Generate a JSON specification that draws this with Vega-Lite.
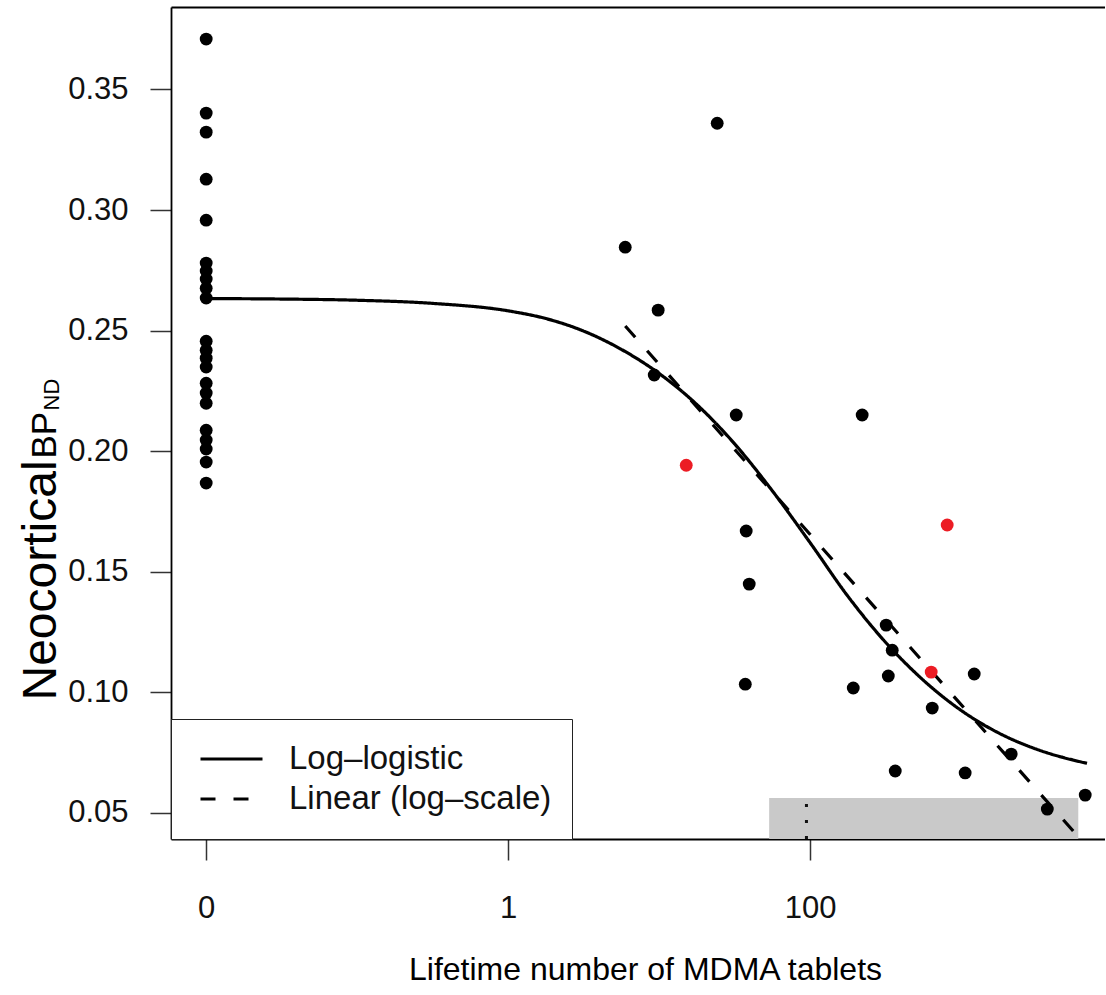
{
  "$schema": "https://vega.github.io/schema/vega-lite/v6.json",
  "width": 934,
  "height": 832,
  "autosize": {"type": "none"},
  "padding": {"left": 171, "top": 7, "right": 0, "bottom": 156},
  "background": "white",
  "config": {
    "view": {"stroke": null},
    "font": "Liberation Sans",
    "axis": {"grid": false, "titleFontWeight": "normal", "titleColor": "#000", "labelColor": "#111"}
  },
  "datasets": {
    "band": [
      {"log_tablets_from": 1.728, "log_tablets_to": 3.775, "bp_low": 0.0392, "bp_high": 0.0562}
    ],
    "marker": [
      {"log_tablets": 1.975, "bp_low": 0.0392, "bp_high": 0.0562}
    ],
    "curves": [
      {"model": "Log–logistic", "log_tablets": -2.0, "bp": 0.2633},
      {"model": "Log–logistic", "log_tablets": -1.5, "bp": 0.2631},
      {"model": "Log–logistic", "log_tablets": -1.0, "bp": 0.2626},
      {"model": "Log–logistic", "log_tablets": -0.5, "bp": 0.2613},
      {"model": "Log–logistic", "log_tablets": 0.0, "bp": 0.2582},
      {"model": "Log–logistic", "log_tablets": 0.25, "bp": 0.2550},
      {"model": "Log–logistic", "log_tablets": 0.5, "bp": 0.2498},
      {"model": "Log–logistic", "log_tablets": 0.75, "bp": 0.2422},
      {"model": "Log–logistic", "log_tablets": 1.0, "bp": 0.2322},
      {"model": "Log–logistic", "log_tablets": 1.25, "bp": 0.2193},
      {"model": "Log–logistic", "log_tablets": 1.5, "bp": 0.2030},
      {"model": "Log–logistic", "log_tablets": 1.75, "bp": 0.1835},
      {"model": "Log–logistic", "log_tablets": 2.0, "bp": 0.1620},
      {"model": "Log–logistic", "log_tablets": 2.25, "bp": 0.1398},
      {"model": "Log–logistic", "log_tablets": 2.5, "bp": 0.1207},
      {"model": "Log–logistic", "log_tablets": 2.75, "bp": 0.1050},
      {"model": "Log–logistic", "log_tablets": 3.0, "bp": 0.0925},
      {"model": "Log–logistic", "log_tablets": 3.25, "bp": 0.0831},
      {"model": "Log–logistic", "log_tablets": 3.5, "bp": 0.0764},
      {"model": "Log–logistic", "log_tablets": 3.75, "bp": 0.0718},
      {"model": "Log–logistic", "log_tablets": 3.833, "bp": 0.0706},
      {"model": "Linear (log–scale)", "log_tablets": 0.775, "bp": 0.2519},
      {"model": "Linear (log–scale)", "log_tablets": 3.821, "bp": 0.0369}
    ],
    "points": [
      {"log_tablets": -2, "bp": 0.3709, "group": "standard"},
      {"log_tablets": -2, "bp": 0.3402, "group": "standard"},
      {"log_tablets": -2, "bp": 0.3323, "group": "standard"},
      {"log_tablets": -2, "bp": 0.3128, "group": "standard"},
      {"log_tablets": -2, "bp": 0.2958, "group": "standard"},
      {"log_tablets": -2, "bp": 0.2780, "group": "standard"},
      {"log_tablets": -2, "bp": 0.2747, "group": "standard"},
      {"log_tablets": -2, "bp": 0.2714, "group": "standard"},
      {"log_tablets": -2, "bp": 0.2676, "group": "standard"},
      {"log_tablets": -2, "bp": 0.2635, "group": "standard"},
      {"log_tablets": -2, "bp": 0.2456, "group": "standard"},
      {"log_tablets": -2, "bp": 0.2419, "group": "standard"},
      {"log_tablets": -2, "bp": 0.2386, "group": "standard"},
      {"log_tablets": -2, "bp": 0.2349, "group": "standard"},
      {"log_tablets": -2, "bp": 0.2282, "group": "standard"},
      {"log_tablets": -2, "bp": 0.2241, "group": "standard"},
      {"log_tablets": -2, "bp": 0.2199, "group": "standard"},
      {"log_tablets": -2, "bp": 0.2087, "group": "standard"},
      {"log_tablets": -2, "bp": 0.2046, "group": "standard"},
      {"log_tablets": -2, "bp": 0.2009, "group": "standard"},
      {"log_tablets": -2, "bp": 0.1955, "group": "standard"},
      {"log_tablets": -2, "bp": 0.1868, "group": "standard"},
      {"log_tablets": 0.775, "bp": 0.2846, "group": "standard"},
      {"log_tablets": 1.384, "bp": 0.3360, "group": "standard"},
      {"log_tablets": 0.993, "bp": 0.2585, "group": "standard"},
      {"log_tablets": 0.967, "bp": 0.2316, "group": "standard"},
      {"log_tablets": 1.179, "bp": 0.1942, "group": "highlighted"},
      {"log_tablets": 1.510, "bp": 0.2150, "group": "standard"},
      {"log_tablets": 2.344, "bp": 0.2150, "group": "standard"},
      {"log_tablets": 1.576, "bp": 0.1669, "group": "standard"},
      {"log_tablets": 1.596, "bp": 0.1449, "group": "standard"},
      {"log_tablets": 1.570, "bp": 0.1034, "group": "standard"},
      {"log_tablets": 2.907, "bp": 0.1694, "group": "highlighted"},
      {"log_tablets": 2.503, "bp": 0.1279, "group": "standard"},
      {"log_tablets": 2.543, "bp": 0.1175, "group": "standard"},
      {"log_tablets": 2.517, "bp": 0.1068, "group": "standard"},
      {"log_tablets": 2.285, "bp": 0.1018, "group": "standard"},
      {"log_tablets": 2.801, "bp": 0.1084, "group": "highlighted"},
      {"log_tablets": 3.086, "bp": 0.1076, "group": "standard"},
      {"log_tablets": 2.808, "bp": 0.0935, "group": "standard"},
      {"log_tablets": 2.563, "bp": 0.0674, "group": "standard"},
      {"log_tablets": 3.026, "bp": 0.0666, "group": "standard"},
      {"log_tablets": 3.331, "bp": 0.0744, "group": "standard"},
      {"log_tablets": 3.570, "bp": 0.0516, "group": "standard"},
      {"log_tablets": 3.821, "bp": 0.0574, "group": "standard"}
    ]
  },
  "layer": [
    {
      "data": {"name": "band"},
      "mark": {"type": "rect", "color": "#c9c9c9"},
      "encoding": {
        "x": {
          "field": "log_tablets_from", "type": "quantitative",
          "scale": {"domain": [-2.233, 3.952], "nice": false, "zero": false},
          "axis": {
            "orient": "bottom", "values": [-2, 0, 2],
            "labelExpr": "datum.value == -2 ? '0' : datum.value == 0 ? '1' : '100'",
            "tickSize": 21, "tickWidth": 1.5, "tickColor": "#333",
            "domain": true, "domainColor": "#000", "domainWidth": 1.8,
            "labelFontSize": 31, "labelPadding": 33, "labelAngle": 0,
            "title": "Lifetime number of MDMA tablets", "titleFontSize": 32,
            "titleX": 474, "titleY": 140, "titleAlign": "center", "titleBaseline": "alphabetic"
          }
        },
        "x2": {"field": "log_tablets_to"},
        "y": {
          "field": "bp_low", "type": "quantitative",
          "scale": {"domain": [0.0392, 0.3842], "nice": false, "zero": false},
          "axis": {
            "orient": "left", "values": [0.05, 0.10, 0.15, 0.20, 0.25, 0.30, 0.35], "format": ".2f",
            "tickSize": 21, "tickWidth": 1.5, "tickColor": "#333",
            "domain": true, "domainColor": "#000", "domainWidth": 1.8,
            "labelFontSize": 31, "labelPadding": 22,
            "title": "Neocortical", "titleFontSize": 48, "titleAngle": 270,
            "titleX": -116, "titleY": 693, "titleAlign": "left", "titleBaseline": "alphabetic"
          }
        },
        "y2": {"field": "bp_high"}
      }
    },
    {
      "data": {"name": "marker"},
      "mark": {"type": "rule", "color": "#111", "strokeWidth": 3, "strokeDash": [3, 13]},
      "encoding": {
        "x": {
          "field": "log_tablets", "type": "quantitative",
          "scale": {"domain": [-2.233, 3.952], "nice": false, "zero": false},
          "axis": {"orient": "top", "labels": false, "ticks": false, "title": null, "domain": true, "domainColor": "#000", "domainWidth": 1.8}
        },
        "y": {
          "field": "bp_low", "type": "quantitative",
          "scale": {"domain": [0.0392, 0.3842], "nice": false, "zero": false},
          "axis": {
            "orient": "left", "labels": false, "ticks": false, "domain": false,
            "title": "BP", "titleFontSize": 35, "titleAngle": 270,
            "titleX": -116, "titleY": 451, "titleAlign": "left", "titleBaseline": "alphabetic"
          }
        },
        "y2": {"field": "bp_high"}
      }
    },
    {
      "data": {"name": "curves"},
      "mark": {"type": "line", "color": "#000", "strokeWidth": 3.2, "clip": true, "interpolate": "monotone"},
      "encoding": {
        "x": {"field": "log_tablets", "type": "quantitative", "scale": {"domain": [-2.233, 3.952], "nice": false, "zero": false}, "axis": null},
        "y": {"field": "bp", "type": "quantitative", "scale": {"domain": [0.0392, 0.3842], "nice": false, "zero": false}, "axis": null},
        "strokeDash": {
          "field": "model", "type": "nominal",
          "scale": {"domain": ["Log–logistic", "Linear (log–scale)"], "range": [[1, 0], [15, 18]]},
          "legend": {
            "title": null, "orient": "bottom-left", "offset": 0, "padding": 20, "rowPadding": 0,
            "clipHeight": 40,
            "symbolType": "stroke", "symbolSize": 3844, "symbolStrokeWidth": 3, "symbolStrokeColor": "#000",
            "symbolOffset": 8,
            "labelFontSize": 33, "labelColor": "#111", "labelOffset": 25, "labelLimit": 500,
            "strokeColor": "#222", "fillColor": "white", "cornerRadius": 0
          }
        }
      }
    },
    {
      "data": {"name": "points"},
      "mark": {"type": "point", "filled": true, "size": 165, "opacity": 1},
      "encoding": {
        "x": {"field": "log_tablets", "type": "quantitative", "scale": {"domain": [-2.233, 3.952], "nice": false, "zero": false}, "axis": null},
        "y": {
          "field": "bp", "type": "quantitative",
          "scale": {"domain": [0.0392, 0.3842], "nice": false, "zero": false},
          "axis": {
            "orient": "left", "labels": false, "ticks": false, "domain": false,
            "title": "ND", "titleFontSize": 22, "titleAngle": 270,
            "titleX": -113, "titleY": 403, "titleAlign": "left", "titleBaseline": "alphabetic"
          }
        },
        "color": {
          "field": "group", "type": "nominal",
          "scale": {"domain": ["standard", "highlighted"], "range": ["#000000", "#ec1c24"]},
          "legend": null
        }
      }
    }
  ],
  "resolve": {"axis": {"x": "independent", "y": "independent"}}
}
